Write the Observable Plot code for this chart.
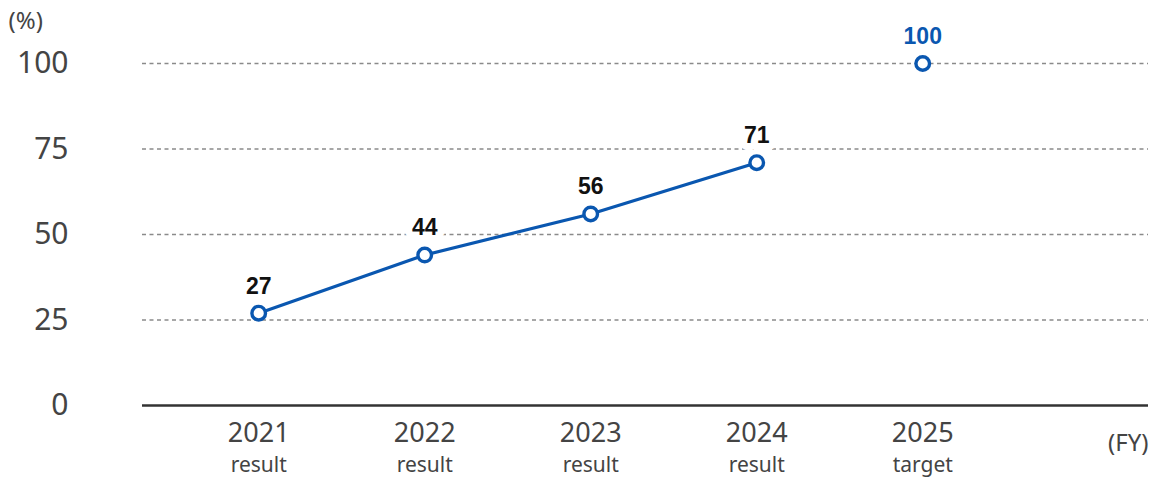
<!DOCTYPE html>
<html>
<head>
<meta charset="utf-8">
<script src="https://cdn.jsdelivr.net/npm/d3@7"></script>
<script src="https://cdn.jsdelivr.net/npm/@observablehq/plot@0.6"></script>
<style>
  html, body { margin: 0; padding: 0; background: #fff; }
  svg { display: block; }
</style>
</head>
<body>
<div id="chart"></div>
<script>
const years = [2021, 2022, 2023, 2024, 2025];
const values = [27, 44, 56, 71, 100];
const kinds = ["result", "result", "result", "result", "target"];
const yTicks = [0, 25, 50, 75, 100];
const gridTicks = [25, 50, 75, 100];

const data = years.map((y, i) => ({year: y, value: values[i], kind: kinds[i]}));
const results = data.filter(d => d.kind === "result");
const subLabel = new Map(data.map(d => [d.year, d.kind]));

const blue = "#0a57b0";
const font = "'Noto Sans', Roboto, sans-serif";

const chart = Plot.plot({
  width: 1156,
  height: 479,
  marginLeft: 142,
  marginRight: 8,
  marginTop: 63,
  marginBottom: 74,
  style: {fontFamily: font, background: "#fff"},
  x: {type: "linear", domain: [2020.3, 2026.36]},
  y: {domain: [0, 100]},
  marks: [
    Plot.ruleY(gridTicks, {stroke: "#8a8a8a", strokeWidth: 1.5, strokeDasharray: "4,3.5"}),
    Plot.ruleY([0], {stroke: "#333", strokeWidth: 2.5}),
    Plot.axisY({ticks: yTicks, tickSize: 0, tickPadding: 74, fontSize: 30, fill: "#444", label: null}),
    Plot.axisX({ticks: years, tickSize: 0, tickPadding: 17, fontSize: 27, fill: "#444",
      tickFormat: d => String(d), label: null}),
    Plot.axisX({ticks: years, tickSize: 0, tickPadding: 52, fontSize: 21, fill: "#444",
      tickFormat: d => subLabel.get(d), label: null}),
    Plot.text(["(%)"], {frameAnchor: "top-left", dx: -134, dy: -52, fontSize: 24, fill: "#444", textAnchor: "start"}),
    Plot.text(["(FY)"], {frameAnchor: "bottom-right", dx: 0, dy: 45, fontSize: 24, fill: "#444", textAnchor: "end"}),
    Plot.line(results, {x: "year", y: "value", stroke: blue, strokeWidth: 3.2}),
    Plot.dot(data, {x: "year", y: "value", r: 6.8, fill: "#fff", stroke: blue, strokeWidth: 3.4}),
    Plot.text(data, {x: "year", y: "value", text: d => String(d.value), dy: -27, fontSize: 23, fontWeight: "bold",
      fontFamily: "'Liberation Sans', Arial, sans-serif",
      fill: d => d.kind === "target" ? blue : "#111", stroke: "#fff", strokeWidth: 14, paintOrder: "stroke"})
  ]
});
document.getElementById("chart").appendChild(chart);
</script>
</body>
</html>
